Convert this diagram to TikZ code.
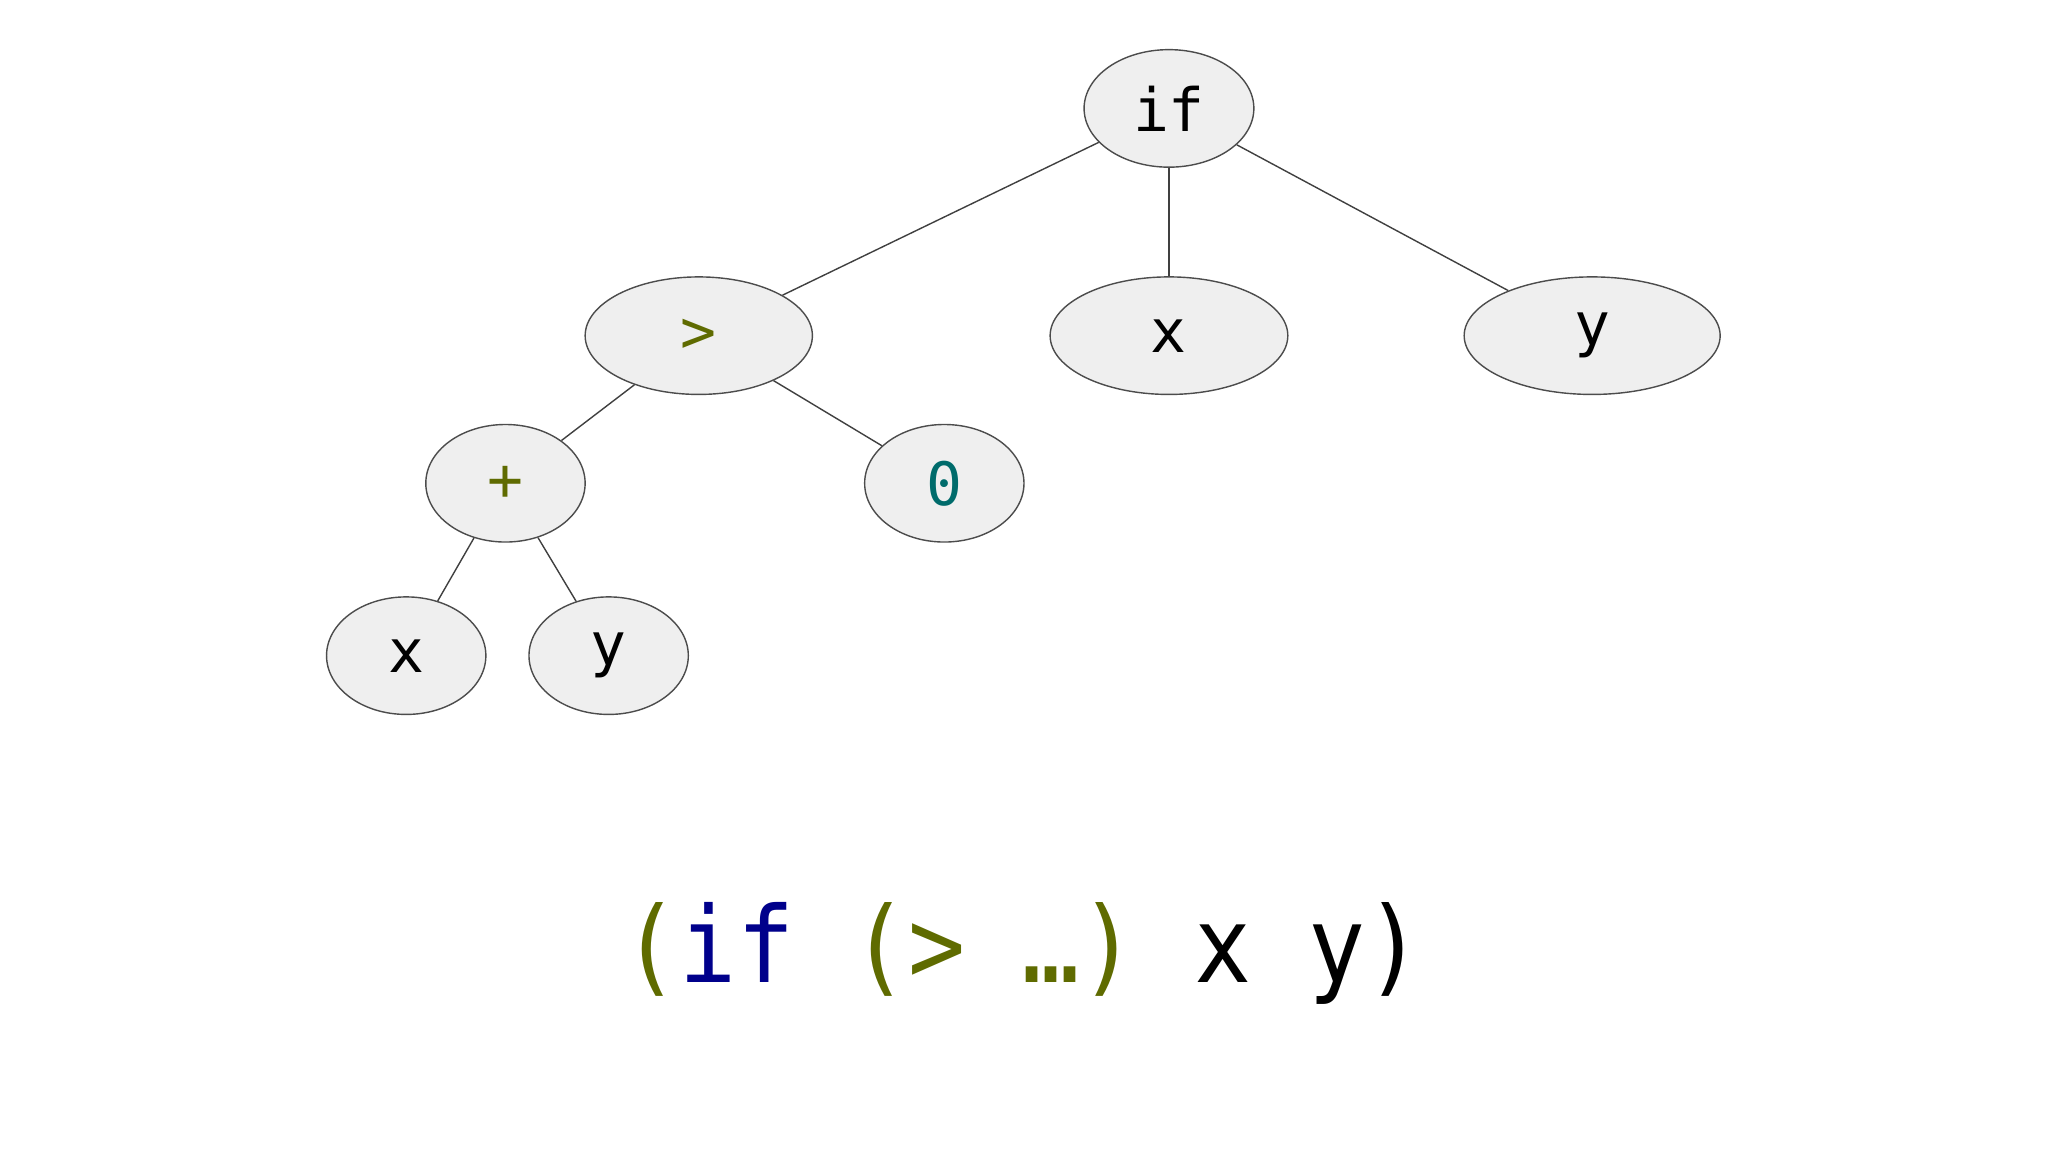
\documentclass[tikz,border=0pt]{standalone}
\usepackage{fontspec}
\setmonofont{DejaVu Sans Mono}
\newfontfamily\codefont[FakeStretch=0.9]{DejaVu Sans Mono}
\usetikzlibrary{shapes.geometric}
\definecolor{olivekw}{HTML}{5F6B00}
\definecolor{navykw}{HTML}{00008B}
\definecolor{tealnum}{HTML}{006B6B}
\definecolor{nodefill}{HTML}{EFEFEF}
\begin{document}
\begin{tikzpicture}[x=0.01306cm,y=-0.01306cm,
  ast/.style={draw=black!70, fill=nodefill, ellipse, line width=0.4pt, inner sep=0pt,
    minimum height=90*0.3716pt, font=\ttfamily\fontsize{17}{20}\selectfont},
  edge/.style={draw=black!75, line width=0.4pt}]

\path [use as bounding box] (0,0) rectangle (1568,882);

% TREE
\node [ast, minimum width=130*0.3716pt] (if) at (895,83) {if};
\node [ast, minimum width=174*0.3716pt, text=olivekw] (gt) at (535,257) {>};
\node [ast, minimum width=182*0.3716pt] (x) at (895,257) {x};
\node [ast, minimum width=196*0.3716pt] (y) at (1219,257) {y};
\node [ast, minimum width=122*0.3716pt, text=olivekw] (plus) at (387,370) {+};
\node [ast, minimum width=122*0.3716pt, text=tealnum] (zero) at (723,370) {0};
\node [ast, minimum width=122*0.3716pt] (px) at (311,502) {x};
\node [ast, minimum width=122*0.3716pt] (py) at (466,502) {y};

\draw [edge] (if) -- (gt);
\draw [edge] (if) -- (x);
\draw [edge] (if) -- (y);
\draw [edge] (gt) -- (plus);
\draw [edge] (gt) -- (zero);
\draw [edge] (plus) -- (px);
\draw [edge] (plus) -- (py);

% CODE
\node [font=\codefont\fontsize{30}{36}\selectfont] (code) at (783,730)
  {\textcolor{olivekw}{(}\textcolor{navykw}{if} \textcolor{olivekw}{(> …)} x y)};

\end{tikzpicture}
\end{document}
